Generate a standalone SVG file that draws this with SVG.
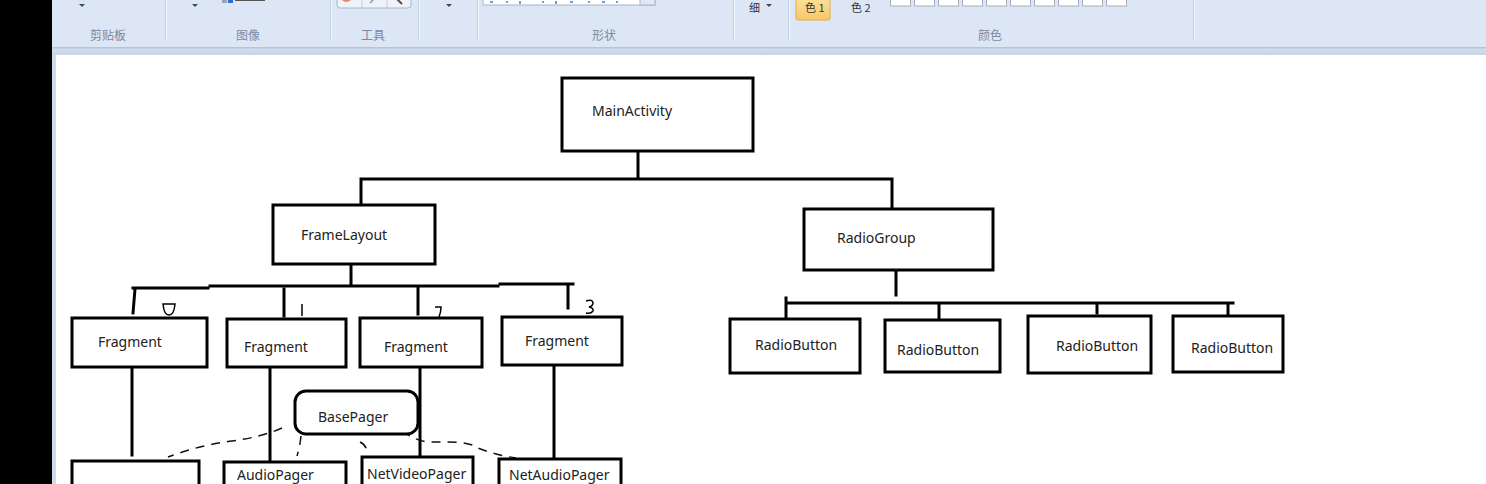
<svg xmlns="http://www.w3.org/2000/svg" width="1486" height="484" viewBox="0 0 1486 484">
<defs>
<style>
.bx{fill:#fff;stroke:#000;stroke-width:3}
.ln{fill:none;stroke:#000;stroke-width:3;stroke-linecap:square}
.ds{fill:none;stroke:#111;stroke-width:1.5;stroke-dasharray:9 7}
.hw{fill:none;stroke:#000;stroke-width:1.5}
.t{font-family:"Noto Sans","Open Sans",sans-serif;font-size:14px;fill:#222}
.ui{font-family:"Noto Sans CJK SC","Noto Sans",sans-serif;font-size:12px;fill:#7a8aa3}
.uk{font-family:"Noto Sans CJK SC","Noto Sans",sans-serif;font-size:11px;fill:#333}
.sep{stroke:#c3d0e2;stroke-width:1}
.sep2{stroke:#f3f7fc;stroke-width:1}
.arr{fill:#3c4a5e}
</style>
<linearGradient id="band" x1="0" y1="0" x2="0" y2="1">
<stop offset="0" stop-color="#aebdd2"/><stop offset="0.3" stop-color="#d2ddec"/><stop offset="1" stop-color="#c9d6e8"/>
</linearGradient>
<linearGradient id="org" x1="0" y1="0" x2="0" y2="1">
<stop offset="0" stop-color="#fde6a4"/><stop offset="1" stop-color="#f9c766"/>
</linearGradient>
</defs>

<!-- window chrome -->
<rect x="0" y="0" width="1486" height="484" fill="#fff"/>
<rect x="0" y="0" width="52" height="484" fill="#000"/>
<rect x="52" y="0" width="1434" height="48" fill="#dce6f4"/>
<rect x="52" y="47" width="1434" height="8" fill="url(#band)"/>
<rect x="52" y="55" width="4" height="429" fill="#cfdbeb"/>

<g id="toolbar">
<line class="sep" x1="165.5" y1="0" x2="165.5" y2="40"/><line class="sep2" x1="166.5" y1="0" x2="166.5" y2="40"/>
<line class="sep" x1="330.5" y1="0" x2="330.5" y2="40"/><line class="sep2" x1="331.5" y1="0" x2="331.5" y2="40"/>
<line class="sep" x1="418.5" y1="0" x2="418.5" y2="40"/><line class="sep2" x1="419.5" y1="0" x2="419.5" y2="40"/>
<line class="sep" x1="477.5" y1="0" x2="477.5" y2="40"/><line class="sep2" x1="478.5" y1="0" x2="478.5" y2="40"/>
<line class="sep" x1="733.5" y1="0" x2="733.5" y2="40"/><line class="sep2" x1="734.5" y1="0" x2="734.5" y2="40"/>
<line class="sep" x1="788.5" y1="0" x2="788.5" y2="40"/><line class="sep2" x1="789.5" y1="0" x2="789.5" y2="40"/>
<line class="sep" x1="1193.5" y1="0" x2="1193.5" y2="40"/><line class="sep2" x1="1194.5" y1="0" x2="1194.5" y2="40"/>
<path class="arr" d="M79 4h6l-3 3z"/>
<path class="arr" d="M192 4h6l-3 3z"/>
<path class="arr" d="M446 4h6l-3 3z"/>
<path class="arr" d="M766 4h6l-3 3z"/>
<rect x="222" y="-2" width="5" height="5" fill="#9aa4b0"/>
<rect x="228" y="-2" width="5" height="5" fill="#2a6fd0"/>
<rect x="235" y="-2" width="30" height="3" fill="#555"/>
<rect x="337" y="-6" width="74" height="14" rx="3" fill="#eef3fa" stroke="#aab6c6"/>
<line x1="362" y1="-6" x2="362" y2="8" stroke="#c3ccd8"/>
<line x1="387" y1="-6" x2="387" y2="8" stroke="#c3ccd8"/>
<path d="M342 0 q4 4 9 0 l-2 -4z" fill="#e8866a"/>
<path d="M370 3 l6 -6" stroke="#999" stroke-width="1.5"/>
<path d="M396 -2 l6 6" stroke="#6a4a2a" stroke-width="2"/>
<rect x="483" y="-6" width="172" height="11" fill="#fff" stroke="#aab6c6"/>
<rect x="640" y="-6" width="15" height="11" fill="#e3e9f2" stroke="#aab6c6"/>
<path d="M490 2h3M506 2h2M520 1v3M542 2h2M556 1v3M570 2h3M588 2h2M602 2h3M616 2h2" stroke="#3d7fd6" stroke-width="1.5"/>
<text class="uk" x="749" y="12">细</text>
<rect x="796" y="-6" width="34" height="26" rx="2" fill="url(#org)" stroke="#e2ad4c"/>
<text class="uk" x="805" y="12">色 1</text>
<text class="uk" x="851" y="12">色 2</text>
<g fill="#fff" stroke="#a6afbb">
<rect x="890.5" y="-10" width="20" height="16"/><rect x="914.5" y="-10" width="20" height="16"/>
<rect x="938.5" y="-10" width="20" height="16"/><rect x="962.5" y="-10" width="20" height="16"/>
<rect x="986.5" y="-10" width="20" height="16"/><rect x="1010.5" y="-10" width="20" height="16"/>
<rect x="1034.5" y="-10" width="20" height="16"/><rect x="1058.5" y="-10" width="20" height="16"/>
<rect x="1082.5" y="-10" width="20" height="16"/><rect x="1106.5" y="-10" width="20" height="16"/>
</g>
<text class="ui" x="108" y="40" text-anchor="middle">剪贴板</text>
<text class="ui" x="248" y="40" text-anchor="middle">图像</text>
<text class="ui" x="373" y="40" text-anchor="middle">工具</text>
<text class="ui" x="604" y="40" text-anchor="middle">形状</text>
<text class="ui" x="990" y="40" text-anchor="middle">颜色</text>
</g>

<g id="connectors">
<path class="ln" d="M638 151V179M361 179H892M361 179V205M892 179V207"/>
<path class="ln" d="M351 264V286M133 288H208M210 286H498M500 284H573"/>
<path class="ln" d="M135 289L133 313M284 289V316M418 288V314M568 286V308"/>
<path class="ln" d="M896 270V295M786 303H1233M786 298V318M939 303V322M1097 303V313M1228 303V322"/>
<path class="ln" d="M132 367V455M270 367V460M420 367V457M554 365V457"/>
<path class="ds" d="M282 428Q262 437 232 441Q200 445 168 457"/>
<path class="ds" d="M301 436Q300 446 297 456"/>
<path class="ds" d="M360 442Q368 446 367 455"/>
<path class="ds" d="M402 431Q414 440 428 442H448Q470 442 478 448Q495 455 516 458"/>
<path class="hw" d="M163 304h12q-1 11-6 11q-5 0-6-11z"/>
<path class="hw" d="M302 304v12"/>
<path class="hw" d="M435 307h6q0 5-2 10"/>
<path class="hw" d="M586 301q7-2 7 2q0 3-4 4q5 1 4 4q-2 3-7 2"/>
</g>

<g id="MainActivity"><rect class="bx" x="562" y="78" width="191" height="73"/><text class="t" x="592" y="116">MainActivity</text></g>
<g id="FrameLayout"><rect class="bx" x="273" y="205" width="162" height="59"/><text class="t" x="301" y="240">FrameLayout</text></g>
<g id="RadioGroup"><rect class="bx" x="804" y="209" width="189" height="61"/><text class="t" x="837" y="243">RadioGroup</text></g>

<g id="Fragment1"><rect class="bx" x="72" y="318" width="135" height="49"/><text class="t" x="98" y="347">Fragment</text></g>
<g id="Fragment2"><rect class="bx" x="227" y="319" width="119" height="48"/><text class="t" x="244" y="352">Fragment</text></g>
<g id="Fragment3"><rect class="bx" x="360" y="318" width="122" height="49"/><text class="t" x="384" y="352">Fragment</text></g>
<g id="Fragment4"><rect class="bx" x="502" y="317" width="120" height="48"/><text class="t" x="525" y="346">Fragment</text></g>

<g id="RadioButton1"><rect class="bx" x="730" y="319" width="130" height="54"/><text class="t" x="755" y="350">RadioButton</text></g>
<g id="RadioButton2"><rect class="bx" x="885" y="320" width="115" height="52"/><text class="t" x="897" y="355">RadioButton</text></g>
<g id="RadioButton3"><rect class="bx" x="1028" y="316" width="123" height="57"/><text class="t" x="1056" y="351">RadioButton</text></g>
<g id="RadioButton4"><rect class="bx" x="1173" y="316" width="110" height="56"/><text class="t" x="1191" y="353">RadioButton</text></g>

<g id="BasePager"><rect class="bx" x="295" y="391" width="123" height="43" rx="11"/><text class="t" x="318" y="422">BasePager</text></g>

<g id="Pager1"><rect class="bx" x="72" y="461" width="127" height="40"/></g>
<g id="AudioPager"><rect class="bx" x="224" y="462" width="122" height="40"/><text class="t" x="237" y="480">AudioPager</text></g>
<g id="NetVideoPager"><rect class="bx" x="362" y="457" width="111" height="40"/><text class="t" x="367" y="479">NetVideoPager</text></g>
<g id="NetAudioPager"><rect class="bx" x="499" y="459" width="122" height="40"/><text class="t" x="509" y="480">NetAudioPager</text></g>
</svg>
